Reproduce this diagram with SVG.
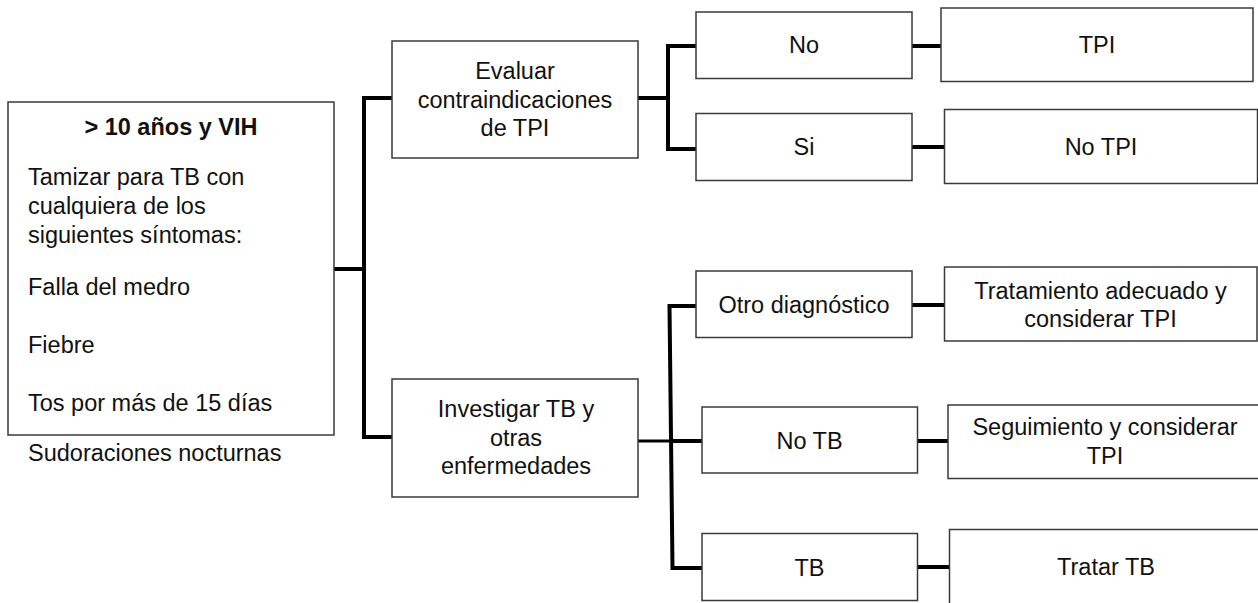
<svg xmlns="http://www.w3.org/2000/svg" width="1258" height="603" viewBox="0 0 1258 603">
<style>
.box{fill:#ffffff;stroke:#3a3a3a;stroke-width:1.5}
.t{font-family:"Liberation Sans",Arial,sans-serif;font-size:23.5px;fill:#111111}
.c{text-anchor:middle}
.b{font-weight:bold}
.con{fill:none;stroke:#000000;stroke-width:4}
.thin{fill:none;stroke:#000000;stroke-width:3}
</style>
<rect width="1258" height="603" fill="#ffffff"/>
<g id="connectors">
<path class="con" d="M333 269 H364"/>
<path class="con" d="M362 98 H392 M364 98 V437 M362 437 H392"/>
<path class="con" d="M638 98 H668 M666 46 H696 M668 46 V149 M666 149 H696"/>
<path class="con" d="M912 46 H941"/>
<path class="con" d="M912 147 H944"/>
<path class="thin" d="M638 441 H670"/>
<path class="con" d="M670 441 H702"/>
<path class="con" d="M669.5 306 L672.5 568 M667.5 306 H696 M670.5 568 H702"/>
<path class="con" d="M912 305 H944"/>
<path class="con" d="M917 441 H948"/>
<path class="con" d="M917 567 H949"/>
</g>
<g id="main">
<rect class="box" x="8" y="102" width="326" height="333"/>
<text class="t c b" x="171" y="135">&gt; 10 años y VIH</text>
<text class="t" x="28" y="185">Tamizar para TB con</text>
<text class="t" x="28" y="214">cualquiera de los</text>
<text class="t" x="28" y="243">siguientes síntomas:</text>
<text class="t" x="28" y="295">Falla del medro</text>
<text class="t" x="28" y="353">Fiebre</text>
<text class="t" x="28" y="411">Tos por más de 15 días</text>
</g>
<g id="sudoraciones">
<text class="t" x="28" y="461">Sudoraciones nocturnas</text>
</g>
<g id="evaluar">
<rect class="box" x="392" y="41" width="246" height="117"/>
<text class="t c" x="515" y="79">Evaluar</text>
<text class="t c" x="515" y="108">contraindicaciones</text>
<text class="t c" x="515" y="136">de TPI</text>
</g>
<g id="investigar">
<rect class="box" x="392" y="379" width="246" height="118"/>
<text class="t c" x="516" y="417">Investigar TB y</text>
<text class="t c" x="516" y="446">otras</text>
<text class="t c" x="516" y="474">enfermedades</text>
</g>
<g id="no">
<rect class="box" x="696" y="12" width="216" height="66.5"/>
<text class="t c" x="804" y="53">No</text>
</g>
<g id="si">
<rect class="box" x="696" y="113.5" width="216" height="67"/>
<text class="t c" x="804" y="155">Si</text>
</g>
<g id="otro">
<rect class="box" x="696" y="271" width="216" height="66.5"/>
<text class="t c" x="804" y="313">Otro diagnóstico</text>
</g>
<g id="notb">
<rect class="box" x="702" y="407" width="215.5" height="66"/>
<text class="t c" x="809.5" y="448.5">No TB</text>
</g>
<g id="tb">
<rect class="box" x="702" y="533.5" width="215.5" height="67"/>
<text class="t c" x="809.5" y="576">TB</text>
</g>
<g id="tpi">
<rect class="box" x="941" y="8" width="312" height="73.5"/>
<text class="t c" x="1097" y="53">TPI</text>
</g>
<g id="notpi">
<rect class="box" x="944.5" y="109.5" width="313" height="74"/>
<text class="t c" x="1101" y="155">No TPI</text>
</g>
<g id="tratamiento">
<rect class="box" x="944.5" y="267" width="312.5" height="74"/>
<text class="t c" x="1100.5" y="298.5">Tratamiento adecuado y</text>
<text class="t c" x="1100.5" y="327">considerar TPI</text>
</g>
<g id="seguimiento">
<rect class="box" x="948" y="405" width="314" height="73.5"/>
<text class="t c" x="1105" y="435">Seguimiento y considerar</text>
<text class="t c" x="1105" y="463.5">TPI</text>
</g>
<g id="tratartb">
<rect class="box" x="949.5" y="529.5" width="314" height="80"/>
<text class="t c" x="1106" y="575">Tratar TB</text>
</g>
</svg>
